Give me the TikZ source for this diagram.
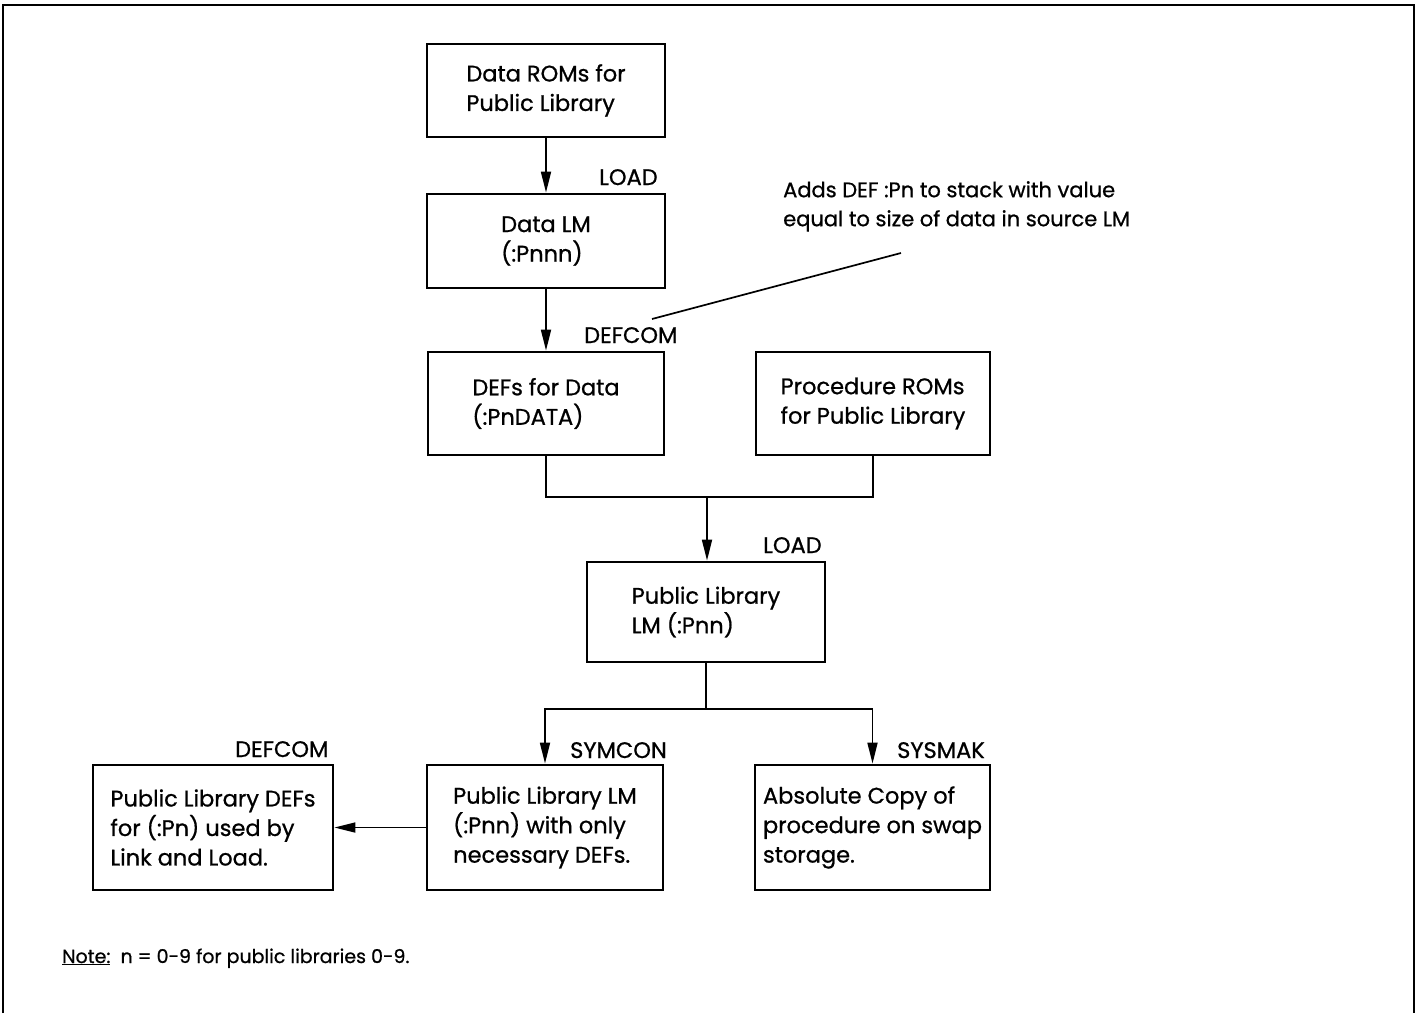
\documentclass[tikz,border=0pt]{standalone}
\usepackage{fontspec}
\setmainfont{Poppins}[FakeBold=0.8]
\usetikzlibrary{arrows.meta}
\begin{document}
\begin{tikzpicture}[x=1pt,y=-1pt,
  every node/.style={font=\fontsize{22.5}{29.5}\selectfont},
  box/.style={draw,line width=2.8pt,align=left,inner sep=0pt},
  conn/.style={line width=1.7pt},
  arr/.style={conn,-{Triangle[length=21pt,width=10pt]}},
  lbl/.style={anchor=base west,inner sep=0pt}]
\useasboundingbox (0,0) rectangle (1421,1013);
\draw[line width=2.8pt] (3,1013) -- (3,5) -- (1414,5) -- (1414,1013);
\node[box,minimum width=238pt,minimum height=93pt] (b1) at (546,90.5) {Data ROMs for\\Public Library};
\node[box,minimum width=238pt,minimum height=94pt] (b2) at (546,241) {Data LM\\(:Pnnn)};
\node[box,minimum width=236pt,minimum height=103pt] (b3) at (546,403.5) {DEFs for Data\\(:PnDATA)};
\node[box,minimum width=234pt,minimum height=103pt] (b4) at (873,403.5) {Procedure ROMs\\for Public Library};
\node[box,minimum width=238pt,minimum height=100pt] (b5) at (706,612) {Public Library\\LM (:Pnn)};
\node[box,minimum width=240pt,minimum height=125pt] (b6) at (213,827.5) {Public Library DEFs\\for (:Pn) used by\\Link and Load.};
\node[box,minimum width=236pt,minimum height=125pt] (b7) at (545,827.5) {Public Library LM\\(:Pnn) with only\\necessary DEFs.};
\node[box,minimum width=235pt,minimum height=125pt] (b8) at (872.5,827.5) {Absolute Copy of\\procedure on swap\\storage.};
\node[lbl] (l1) at (599,185) {LOAD};
\node[lbl] (l2) at (584,343) {DEFCOM};
\node[lbl] (l3) at (763,553) {LOAD};
\node[lbl] (l4) at (235,757) {DEFCOM};
\node[lbl] (l5) at (570,758) {SYMCON};
\node[lbl] (l6) at (897,758) {SYSMAK};
\node[lbl,align=left,anchor=north west,font=\fontsize{21}{29}\selectfont] (ann) at (783,181) {Adds DEF :Pn to stack with value\\equal to size of data in source LM};
\node[lbl,font=\fontsize{19}{24}\selectfont] (note) at (62,963) {\underline{Note:}\ \ n = 0-9 for public libraries 0-9.};
\coordinate (j1) at (707,497);
\coordinate (j2) at (706,709);
\coordinate (a1) at (652,319);
\coordinate (a2) at (901,253);
\draw[arr] (b1) -- (b2);
\draw[arr] (b2) -- (b3);
\draw[conn] (b3.south) |- (j1) -| (b4.south);
\draw[arr] (j1) -- (j1 |- b5.north);
\draw[conn] (b5.south) -- (j2);
\draw[arr] (j2) -| (b7.north);
\draw[arr] (j2) -| (b8.north);
\draw[arr] (b7) -- (b6);
\draw[conn] (a1) -- (a2);
\end{tikzpicture}
\end{document}
